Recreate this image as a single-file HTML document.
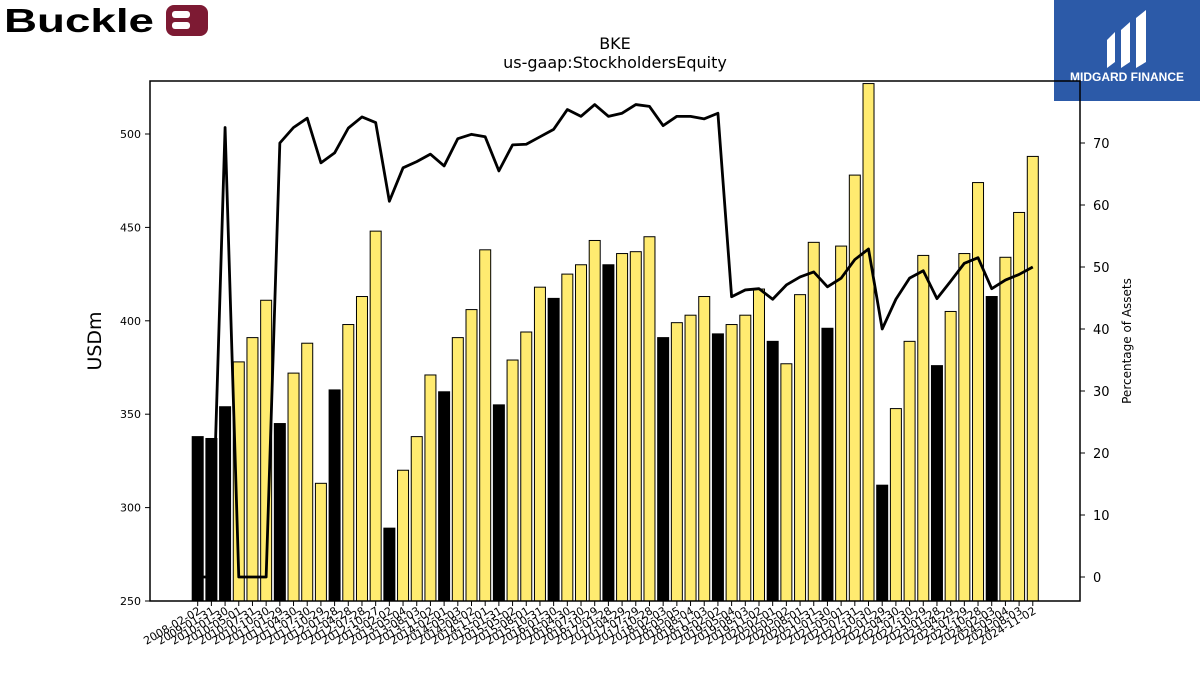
<!DOCTYPE html>
<html><head><meta charset="utf-8"><style>
body{margin:0;background:#fff;width:1200px;height:675px;overflow:hidden;font-family:"Liberation Sans","DejaVu Sans",sans-serif}
svg text{font-family:"DejaVu Sans","Liberation Sans",sans-serif}
</style></head><body>
<svg id="chart" width="1200" height="675" xmlns="http://www.w3.org/2000/svg">
<g>
<text x="4" y="32" font-size="33" font-weight="bold" font-family="Liberation Sans, sans-serif" fill="#000" textLength="150" lengthAdjust="spacingAndGlyphs" style="font-family:'Liberation Sans',sans-serif">Buckle</text>
<rect x="166" y="5" width="42" height="31" rx="8" fill="#7d1a33"/>
<rect x="172" y="11" width="18" height="7" rx="3" fill="#fff"/>
<rect x="172" y="22" width="18" height="7" rx="3" fill="#fff"/>
</g>
<g>
<rect x="1054" y="0" width="146" height="101" fill="#2c5aa8"/>
<path d="M1107 68 L1107 40 L1115 32 L1115 62 Z M1121 68 L1121 30 L1130 22 L1130 62 Z M1136 68 L1136 18 L1146 10 L1146 62 Z" fill="#fff"/>
<text x="1127" y="81" font-size="12" font-weight="bold" fill="#fff" text-anchor="middle" style="font-family:'Liberation Sans',sans-serif">MIDGARD FINANCE</text>
</g>
<text x="615" y="49" font-size="16" text-anchor="middle">BKE</text>
<text x="615" y="68" font-size="16" text-anchor="middle">us-gaap:StockholdersEquity</text>
<g id="bars"></g>
<g id="line"></g>
<g id="axes"></g>
<rect x="150" y="81" width="930" height="520" fill="none" stroke="#000" stroke-width="1.5"/>
<text transform="translate(101,341) rotate(-90)" font-size="19" text-anchor="middle">USDm</text>
<text transform="translate(1131,341) rotate(-90)" font-size="12" text-anchor="middle">Percentage of Assets</text>
</svg>
<script>
const dates=["2008-02-02","2009-01-31","2010-01-30","2010-05-01","2010-07-31","2010-10-30","2011-01-29","2011-04-30","2011-07-30","2011-10-29","2012-01-28","2012-04-28","2012-07-28","2012-10-27","2013-02-02","2013-05-04","2013-08-03","2013-11-02","2014-02-01","2014-05-03","2014-08-02","2014-11-01","2015-01-31","2015-05-02","2015-08-01","2015-10-31","2016-01-30","2016-04-30","2016-07-30","2016-10-29","2017-01-28","2017-04-29","2017-07-29","2017-10-28","2018-02-03","2018-05-05","2018-08-04","2018-11-03","2019-02-02","2019-05-04","2019-08-03","2019-11-02","2020-02-01","2020-05-02","2020-08-01","2020-10-31","2021-01-30","2021-05-01","2021-07-31","2021-10-30","2022-01-29","2022-04-30","2022-07-30","2022-10-29","2023-01-28","2023-04-29","2023-07-29","2023-10-28","2024-02-03","2024-05-04","2024-08-03","2024-11-02"];
const equity=[338,337,354,378,391,411,345,372,388,313,363,398,413,448,289,320,338,371,362,391,406,438,355,379,394,418,412,425,430,443,430,436,437,445,391,399,403,413,393,398,403,417,389,377,414,442,396,440,478,527,312,353,389,435,376,405,436,474,413,434,458,488];
const annual=[1,1,1,0,0,0,1,0,0,0,1,0,0,0,1,0,0,0,1,0,0,0,1,0,0,0,1,0,0,0,1,0,0,0,1,0,0,0,1,0,0,0,1,0,0,0,1,0,0,0,1,0,0,0,1,0,0,0,1,0,0,0];
const pctAssets=[0,0,72.5,0,0,0,70,72.5,74,66.8,68.4,72.4,74.2,73.3,60.6,66,67,68.2,66.3,70.7,71.4,71,65.5,69.7,69.8,71,72.2,75.4,74.3,76.2,74.3,74.8,76.2,75.9,72.8,74.3,74.3,73.9,74.8,45.2,46.3,46.5,44.8,47.1,48.4,49.2,46.8,48.2,51.2,52.9,40,44.8,48.2,49.4,44.9,47.7,50.6,51.5,46.5,47.9,48.8,50];
const leftTicks=[250,300,350,400,450,500];
const rightTicks=[0,10,20,30,40,50,60,70];

const NS="http://www.w3.org/2000/svg";
function mk(t,a,p){const e=document.createElementNS(NS,t);for(const k in a)e.setAttribute(k,a[k]);p.appendChild(e);return e;}
const x=i=>197.7+i*13.69;
const yL=v=>601-(v-250)*93.4/50;
const yR=v=>577-v*6.2;
const bw=11;
const gb=document.getElementById('bars');
equity.forEach((v,i)=>{
 const r=mk('rect',{x:x(i)-bw/2,y:yL(v),width:bw,height:601-yL(v),fill:annual[i]?'#000':'#ffeb70',stroke:'#000','stroke-width':1},gb);
 
 
});
const gl=document.getElementById('line');
const pl=mk('polyline',{points:pctAssets.map((v,i)=>x(i)+','+yR(v)).join(' '),fill:'none',stroke:'#000','stroke-width':2.8,'stroke-linejoin':'round'},gl);


const ga=document.getElementById('axes');
leftTicks.forEach(v=>{
 mk('line',{x1:145,x2:150,y1:yL(v),y2:yL(v),stroke:'#000'},ga);
 const t=mk('text',{x:141,y:yL(v)+4,'font-size':11,'text-anchor':'end'},ga);t.textContent=v;
 
 
});
rightTicks.forEach(v=>{
 mk('line',{x1:1080,x2:1085,y1:yR(v),y2:yR(v),stroke:'#000'},ga);
 const t=mk('text',{x:1093,y:yR(v)+5,'font-size':13},ga);t.textContent=v;
 
 
});
dates.forEach((d,i)=>{
 mk('line',{x1:x(i),x2:x(i),y1:601,y2:606,stroke:'#000'},ga);
 const t=mk('text',{transform:`translate(${x(i)+4},${613}) rotate(-30)`,'font-size':11,'text-anchor':'end'},ga);t.textContent=d;
 
 
});
</script>
</body></html>
